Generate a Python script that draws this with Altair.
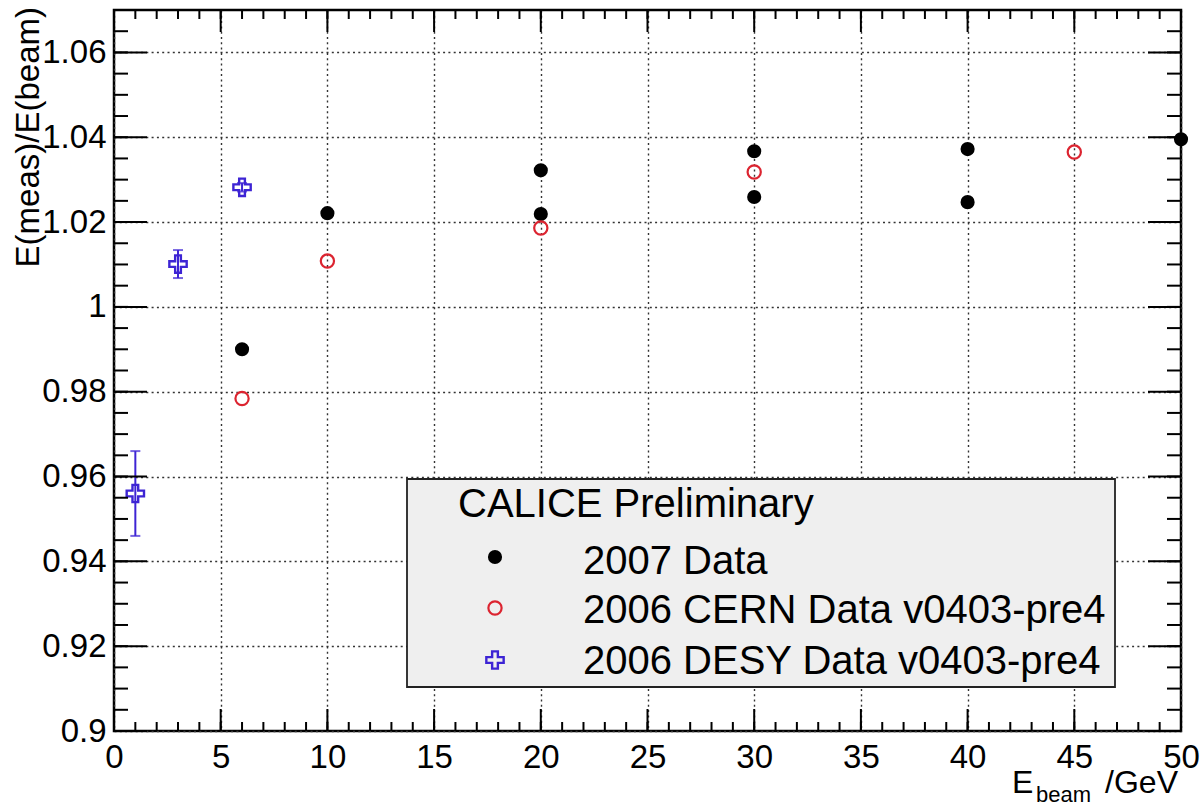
import altair as alt
import pandas as pd

# ---- measured response E(meas)/E(beam) versus beam energy ----
x_2007 = [6, 10, 20, 20, 30, 30, 40, 40, 50]
y_2007 = [0.9900, 1.0221, 1.0322, 1.0219, 1.0367, 1.0259, 1.0372, 1.0247, 1.0395]

x_cern = [6, 10, 20, 30, 45]
y_cern = [0.9784, 1.0108, 1.0186, 1.0318, 1.0365]

x_desy = [1, 3, 6]
y_desy = [0.9560, 1.0101, 1.0282]
e_desy = [0.0100, 0.0033, 0.0010]

series_names = ["2007 Data", "2006 CERN Data v0403-pre4", "2006 DESY Data v0403-pre4"]
legend_header = "CALICE Preliminary"
y_title = "E(meas)/E(beam)"

# axis tick positions
x_major = [0, 5, 10, 15, 20, 25, 30, 35, 40, 45, 50]
x_minor = list(range(0, 51))
y_major = [0.90, 0.92, 0.94, 0.96, 0.98, 1.00, 1.02, 1.04, 1.06]
y_minor = [round(0.9 + 0.005 * i, 3) for i in range(34)]

W, H = 1067, 721
FONT = "Liberation Sans"
RED = "#dc2430"
BLUE = "#3d24d4"
CROSS = ("M-1,-0.33L-0.33,-0.33L-0.33,-1L0.33,-1L0.33,-0.33L1,-0.33L1,0.33"
         "L0.33,0.33L0.33,1L-0.33,1L-0.33,0.33L-1,0.33Z")

BLACK_SIZE = 200
RED_SIZE = 175
CROSS_SIZE = 300

xscale = alt.Scale(domain=[0, 50], nice=False, zero=False)
yscale = alt.Scale(domain=[0.9, 1.07], nice=False, zero=False)

grid_style = dict(grid=True, gridDash=[2, 3.3], gridColor="#333333", gridWidth=1.4,
                  ticks=False, domain=False, labelFlush=False, labelFontSize=33,
                  labelFont=FONT, labelColor="black", title=None)

X = alt.X("x:Q", scale=xscale,
          axis=alt.Axis(values=x_major, labelPadding=10, **grid_style))
Y = alt.Y("y:Q", scale=yscale,
          axis=alt.Axis(values=y_major, format=".2~f", labelPadding=8, **grid_style))

d2007 = pd.DataFrame({"x": x_2007, "y": y_2007})
dcern = pd.DataFrame({"x": x_cern, "y": y_cern})
ddesy = pd.DataFrame({"x": x_desy, "y": y_desy, "e": e_desy})
ddesy["lo"] = ddesy["y"] - ddesy["e"]
ddesy["hi"] = ddesy["y"] + ddesy["e"]

one = alt.Data(values=[{"k": 1}])

pts_2007 = alt.Chart(d2007).mark_point(
    shape="circle", filled=True, size=BLACK_SIZE, color="black", opacity=1
).encode(x=X, y=Y)

pts_cern = alt.Chart(dcern).mark_point(
    shape="circle", filled=False, size=RED_SIZE, stroke=RED, strokeWidth=2.2, opacity=1
).encode(x=X, y=Y)

err_desy = alt.Chart(ddesy).mark_rule(color=BLUE, strokeWidth=2).encode(
    x=X, y=alt.Y("lo:Q", scale=yscale), y2="hi:Q")
cap_lo = alt.Chart(ddesy).mark_tick(orient="horizontal", size=10, thickness=2, color=BLUE).encode(
    x=X, y=alt.Y("lo:Q", scale=yscale))
cap_hi = alt.Chart(ddesy).mark_tick(orient="horizontal", size=10, thickness=2, color=BLUE).encode(
    x=X, y=alt.Y("hi:Q", scale=yscale))

pts_desy = alt.Chart(ddesy).mark_point(
    shape=CROSS, filled=False, size=CROSS_SIZE, stroke=BLUE, strokeWidth=2.4, opacity=1
).encode(x=X, y=Y)


# inward ticks on all four sides
def xticks(vals, length):
    df = pd.DataFrame({"x": vals})
    bottom = alt.Chart(df).mark_rule(color="black", strokeWidth=2).encode(
        x=X, y=alt.value(H), y2=alt.value(H - length))
    top = alt.Chart(df).mark_rule(color="black", strokeWidth=2).encode(
        x=X, y=alt.value(0), y2=alt.value(length))
    return [bottom, top]


def yticks(vals, length):
    df = pd.DataFrame({"y": vals})
    left = alt.Chart(df).mark_rule(color="black", strokeWidth=2).encode(
        y=Y, x=alt.value(0), x2=alt.value(length))
    right = alt.Chart(df).mark_rule(color="black", strokeWidth=2).encode(
        y=Y, x=alt.value(W), x2=alt.value(W - length))
    return [left, right]


ticks = xticks(x_minor, 9) + xticks(x_major, 22) + yticks(y_minor, 14) + yticks(y_major, 33)

# legend box
leg_box = alt.Chart(one).mark_rect(fill="#efefef", stroke="#222222", strokeWidth=1.8).encode(
    x=alt.value(293), x2=alt.value(1001), y=alt.value(469), y2=alt.value(677))


def label(text, x, y, size, align="left", baseline="alphabetic", angle=0):
    return alt.Chart(one).mark_text(
        text=text, font=FONT, fontSize=size, align=align, baseline=baseline,
        angle=angle, color="black"
    ).encode(x=alt.value(x), y=alt.value(y))


leg_items = [
    label(legend_header, 344, 507, 40),
    label(series_names[0], 469, 564, 40),
    label(series_names[1], 469, 613, 40),
    label(series_names[2], 469, 664, 40),
    alt.Chart(one).mark_point(shape="circle", filled=True, size=BLACK_SIZE, color="black", opacity=1)
    .encode(x=alt.value(381), y=alt.value(547)),
    alt.Chart(one).mark_point(shape="circle", filled=False, size=RED_SIZE, stroke=RED, strokeWidth=2.2, opacity=1)
    .encode(x=alt.value(381), y=alt.value(598)),
    alt.Chart(one).mark_point(shape=CROSS, filled=False, size=CROSS_SIZE, stroke=BLUE, strokeWidth=2.4, opacity=1)
    .encode(x=alt.value(381), y=alt.value(650)),
]

titles = [
    label(y_title, -75, -3, 33, align="right", angle=270),
    label("E", 898, 783, 32),
    label("beam", 922, 792, 22),
    label("/GeV", 1064, 783, 32, align="right"),
]

chart = alt.layer(
    pts_2007, leg_box, err_desy, cap_lo, cap_hi, pts_cern, pts_desy,
    *ticks, *leg_items, *titles
).properties(
    width=W, height=H,
    padding={"left": 114, "top": 10, "right": 21, "bottom": 80},
    autosize=alt.AutoSizeParams(type="none"),
    background="white",
).configure_view(stroke="black", strokeWidth=2.5)

chart.save("out.html", embed_options={"renderer": "svg", "actions": False})
